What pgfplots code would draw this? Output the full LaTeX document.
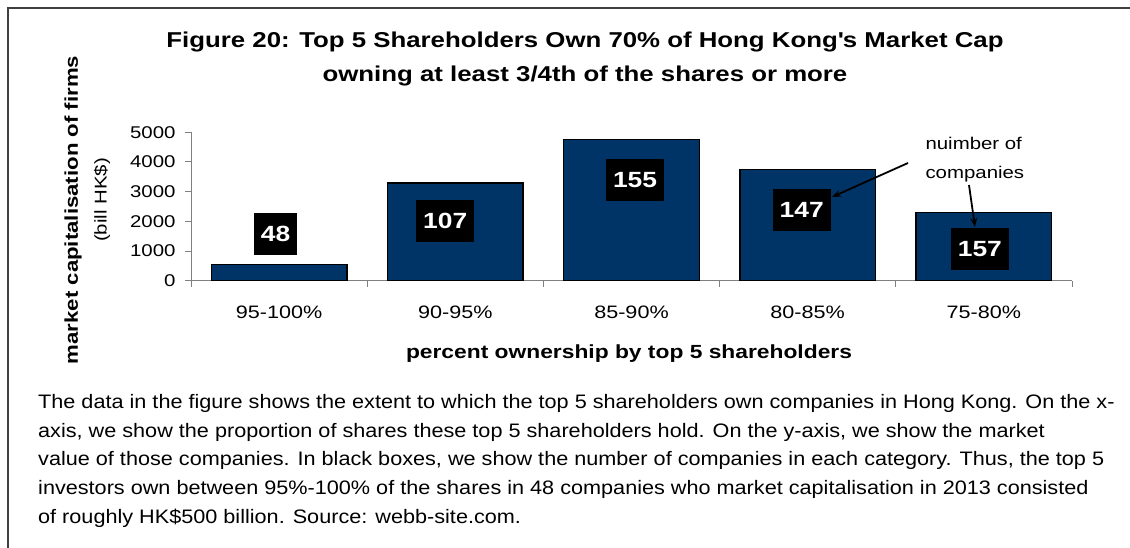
\documentclass[border=0pt]{standalone}
\usepackage{pgfplots}
\pgfplotsset{compat=1.18}
\usetikzlibrary{arrows.meta}
\usepackage{fontspec}
\setmainfont{Liberation Sans}[FakeStretch=1.2]
\newfontfamily\capfont{Liberation Sans}[FakeStretch=1.11]
\definecolor{barblue}{RGB}{0,51,102}
\definecolor{axgray}{RGB}{128,128,128}
\definecolor{framegray}{RGB}{64,64,64}
\pgfplotstableread{
x y
0 550
1 3290
2 4760
3 3750
4 2300
}\capdata
\pgfplotstableread{
x y lab
-0.02 1570 48
0.943 2000 107
2.02 3400 155
2.966 2390 147
3.977 1080 157
}\countdata
\begin{document}
\begin{tikzpicture}[x=1pt,y=1pt]
\path[use as bounding box] (0,0) rectangle (1130,-548);
\draw[line width=1.5pt, framegray] (8,-549) -- (8,-8) -- (1131,-8);
% title
\node[anchor=base, font=\bfseries\fontsize{21.5}{24}\selectfont] at (585,-48) {Figure 20: Top 5 Shareholders Own 70\% of Hong Kong\textquotesingle s Market Cap};
\node[anchor=base, font=\bfseries\fontsize{21.5}{24}\selectfont] at (585,-82) {owning at least 3/4th of the shares or more};
% y labels
\node[rotate=90, font=\bfseries\fontsize{18.5}{20}\selectfont] at (73,-210) {market capitalisation of firms};
\node[rotate=90, font=\fontsize{17}{20}\selectfont] at (102,-200) {(bill HK\$)};
\begin{axis}[at={(191pt,-280.7pt)}, anchor=south west, scale only axis,
  width=881pt, height=148.4pt, clip=false,
  xmin=-0.5, xmax=4.5, ymin=0, ymax=5000,
  axis x line*=bottom, axis y line*=left,
  axis line style={axgray, line width=1pt},
  tick align=outside, major tick length=6pt,
  tick style={axgray, line width=1pt},
  xtick={-0.5,0.5,1.5,2.5,3.5,4.5}, xticklabels={},
  extra x ticks={0,1,2,3,4},
  extra x tick labels={95-100\%,90-95\%,85-90\%,80-85\%,75-80\%},
  extra x tick style={major tick length=0pt},
  x tick label style={font=\fontsize{18}{20}\selectfont, anchor=base, yshift=-38pt},
  ytick={0,1000,2000,3000,4000,5000},
  scaled y ticks=false,
  y tick label style={font=\fontsize{17}{20}\selectfont, xshift=-6pt, /pgf/number format/1000 sep={}},
  /pgf/number format/assume math mode=true,
]
\addplot[ybar, bar width=0.77, fill=barblue, draw=black, line width=1.3pt] table[x=x,y=y] {\capdata};
\addplot[draw=none, mark=none, nodes near coords, point meta=explicit symbolic,
  every node near coord/.append style={anchor=center, fill=black, text=white,
  font=\bfseries\fontsize{22}{24}\selectfont, inner xsep=7pt, inner ysep=0pt, minimum height=42pt}]
  table[x=x,y=y,meta=lab] {\countdata};
\end{axis}
% annotation
\node[anchor=base west, font=\fontsize{17}{20}\selectfont] at (922,-150) {nuimber of};
\node[anchor=base west, font=\fontsize{17}{20}\selectfont] at (922,-179) {companies};
\draw[-{Stealth[length=9pt,width=7pt]}, line width=1.8pt] (908,-163) -- (832,-197);
\draw[-{Stealth[length=9pt,width=7pt]}, line width=1.8pt] (969,-185) -- (975,-227);
% x label
\node[anchor=base, font=\bfseries\fontsize{19}{22}\selectfont] at (629,-358) {percent ownership by top 5 shareholders};
% caption
\begin{scope}[every node/.style={anchor=base west, inner sep=0pt, font=\capfont\fontsize{19.5}{22}\selectfont}]
\node at (38,-408) {The data in the figure shows the extent to which the top 5 shareholders own companies in Hong Kong. On the x-};
\node at (38,-437) {axis, we show the proportion of shares these top 5 shareholders hold. On the y-axis, we show the market};
\node at (38,-465) {value of those companies. In black boxes, we show the number of companies in each category. Thus, the top 5};
\node at (38,-494) {investors own between 95\%-100\% of the shares in 48 companies who market capitalisation in 2013 consisted};
\node at (38,-523) {of roughly HK\$500 billion. Source: webb-site.com.};
\end{scope}
\end{tikzpicture}
\end{document}
